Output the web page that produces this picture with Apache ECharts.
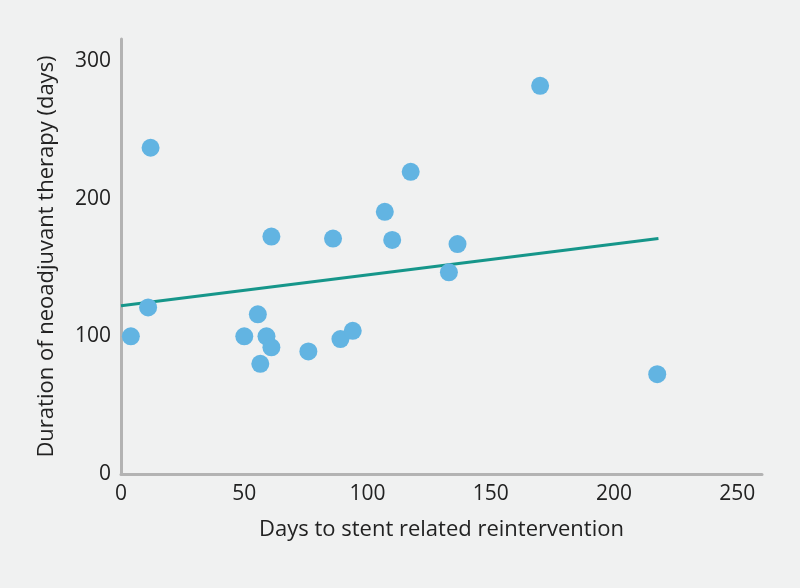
<!DOCTYPE html>
<html>
<head>
<meta charset="utf-8">
<script src="https://cdn.jsdelivr.net/npm/echarts@6/dist/echarts.min.js"></script>
<style>
html,body{margin:0;padding:0;background:#f0f1f1;}
#chart{width:800px;height:588px;}
</style>
</head>
<body>
<div id="chart"></div>
<script>
// Days to stent related reintervention (x) vs duration of neoadjuvant therapy (y)
const daysToReintervention = [4, 11, 12, 50, 55.5, 59, 61, 56.5, 61, 76, 86, 89, 94, 107, 110, 117.5, 133, 136.5, 170, 217.5];
const therapyDuration      = [100, 121, 237, 100, 116, 100, 92, 80, 172.5, 89, 171, 98, 104, 190.5, 170, 219.5, 146.5, 167, 282, 72.5];
// Regression (trend) line endpoints
const trendX = [0, 218];
const trendY = [122.3, 171];
const xTicks = [0, 50, 100, 150, 200, 250];
const yTicks = [0, 100, 200, 300];

const points = daysToReintervention.map((x, i) => [x, therapyDuration[i]]);
const trend = trendX.map((x, i) => [x, trendY[i]]);

const chart = echarts.init(document.getElementById('chart'));
const font = '"Open Sans", "Noto Sans", sans-serif';
chart.setOption({
  backgroundColor: '#f0f1f1',
  animation: false,
  grid: { left: 121, right: 38, top: 39, bottom: 114 },
  xAxis: {
    type: 'value', min: 0, max: 260, interval: 50,
    name: 'Days to stent related reintervention',
    nameLocation: 'middle', nameGap: 45,
    nameTextStyle: { fontFamily: font, fontSize: 22, color: '#222' },
    axisLine: { show: true, lineStyle: { color: '#b3b3b3', width: 3 } },
    axisTick: { show: false },
    splitLine: { show: false },
    axisLabel: {
      fontFamily: font, fontSize: 21, color: '#222', margin: 10, showMaxLabel: false,
      formatter: v => xTicks.includes(v) ? String(v) : ''
    }
  },
  yAxis: {
    type: 'value', min: 0, max: 316, interval: 100,
    name: 'Duration of neoadjuvant therapy (days)',
    nameLocation: 'middle', nameGap: 63,
    nameTextStyle: { fontFamily: font, fontSize: 22, color: '#222' },
    axisLine: { show: true, lineStyle: { color: '#b3b3b3', width: 3 } },
    axisTick: { show: false },
    splitLine: { show: false },
    axisLabel: {
      fontFamily: font, fontSize: 21, color: '#222', margin: 10, showMaxLabel: false,
      formatter: v => yTicks.includes(v) ? String(v) : ''
    }
  },
  series: [
    {
      type: 'line', data: trend, symbol: 'none', z: 1,
      lineStyle: { color: '#16968a', width: 3 }
    },
    {
      type: 'scatter', data: points, symbolSize: 18, z: 2,
      itemStyle: { color: '#62b4e2', opacity: 1 }
    }
  ]
});
</script>
</body>
</html>
